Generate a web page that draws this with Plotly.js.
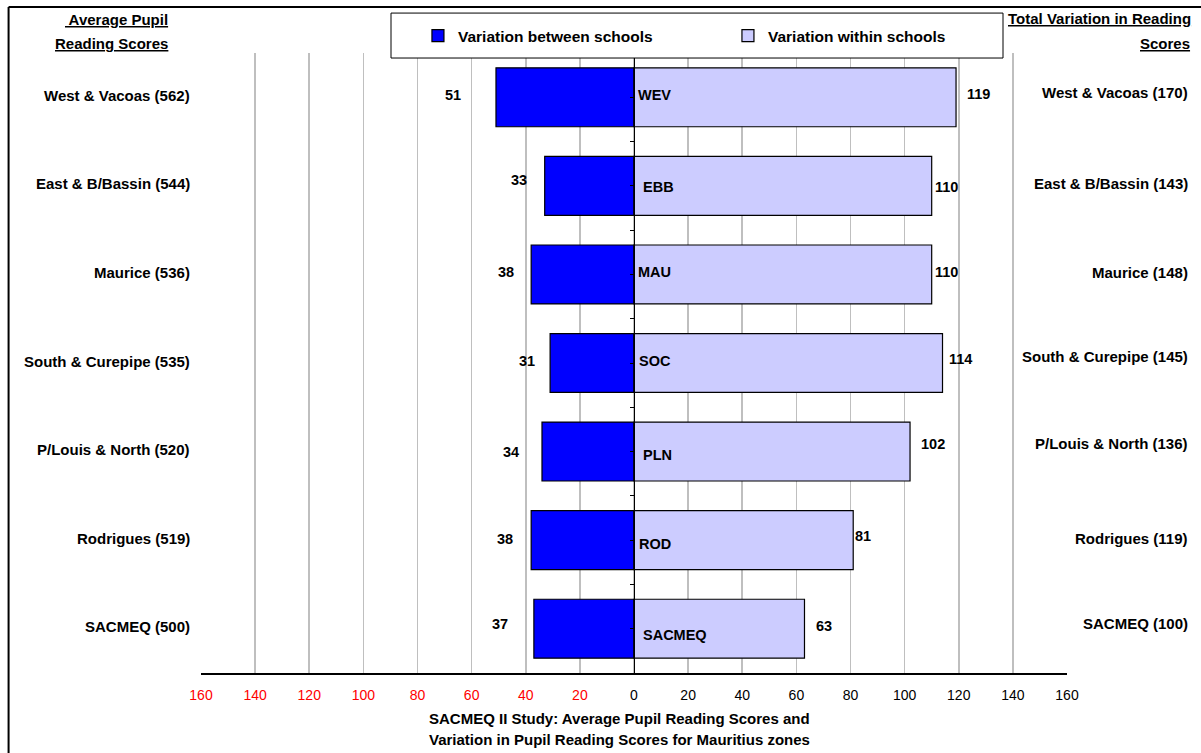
<!DOCTYPE html>
<html>
<head>
<meta charset="utf-8">
<script src="https://cdn.plot.ly/plotly-3.0.1.min.js"></script>
<style>
  html, body { margin: 0; padding: 0; background: #ffffff; }
  #chart { width: 1201px; height: 753px; }
</style>
</head>
<body>
<div id="chart"></div>
<script>
// Mauritius zones: reading score variation split into between/within schools
const zones = ['West & Vacoas', 'East & B/Bassin', 'Maurice', 'South & Curepipe', 'P/Louis & North', 'Rodrigues', 'SACMEQ'];
const zoneCodes = ['WEV', 'EBB', 'MAU', 'SOC', 'PLN', 'ROD', 'SACMEQ'];
const avgScores = [562, 544, 536, 535, 520, 519, 500];
const totalVariation = [170, 143, 148, 145, 136, 119, 100];
const betweenSchools = [51, 33, 38, 31, 34, 38, 37];
const withinSchools = [119, 110, 110, 114, 102, 81, 63];
const xTickVals = [-160, -140, -120, -100, -80, -60, -40, -20, 0, 20, 40, 60, 80, 100, 120, 140, 160];

// Label nudges in pixels (placement only)
const betweenLabelShift = [[-43, 0], [-26, 4], [-25, 0], [-23, 0], [-31, -2], [-26, -1], [-34, 3]];
const withinLabelShift = [[22, 1], [15, -3], [15, 0], [18, 2], [23, 6], [10, 2], [20, 1]];
const codeLabelShift = [[2, 0], [7, -3], [2, 0], [3, 0], [7, -5], [3, -6], [7, -8]];
const rightLabelShift = [3, 0, 0, 5, 6, 0, 3];
const TEXT_LIFT = 2;

const FONT = 'Liberation Sans, Arial, sans-serif';
const rows = zones.map((_, i) => i);

const traces = [
  {
    type: 'bar', orientation: 'h', name: 'Variation between schools',
    y: rows, x: betweenSchools.map(v => -v),
    marker: { color: '#0000ff', line: { color: '#000000', width: 1.2 } },
    hoverinfo: 'skip'
  },
  {
    type: 'bar', orientation: 'h', name: 'Variation within schools',
    y: rows, x: withinSchools,
    marker: { color: '#ccccff', line: { color: '#000000', width: 1.2 } },
    hoverinfo: 'skip'
  }
];

const boldFont = { family: FONT, size: 15, color: '#000000', weight: 700 };
const valueFont = { family: FONT, size: 14.5, color: '#000000', weight: 700 };
const annotations = [];

rows.forEach(i => {
  annotations.push({
    xref: 'paper', yref: 'y', x: 0, y: i, xanchor: 'right', yanchor: 'middle',
    xshift: -9, yshift: TEXT_LIFT, showarrow: false, font: boldFont,
    text: zones[i] + ' (' + avgScores[i] + ')'
  });
  annotations.push({
    xref: 'paper', yref: 'y', x: 1, y: i, xanchor: 'right', yanchor: 'middle',
    xshift: 123, yshift: rightLabelShift[i] + TEXT_LIFT, showarrow: false, font: boldFont,
    text: zones[i] + ' (' + totalVariation[i] + ')'
  });
  annotations.push({
    xref: 'x', yref: 'y', x: -betweenSchools[i], y: i, xanchor: 'center', yanchor: 'middle',
    xshift: betweenLabelShift[i][0], yshift: betweenLabelShift[i][1] + TEXT_LIFT, showarrow: false, font: valueFont,
    text: String(betweenSchools[i])
  });
  annotations.push({
    xref: 'x', yref: 'y', x: withinSchools[i], y: i, xanchor: 'center', yanchor: 'middle',
    xshift: withinLabelShift[i][0], yshift: withinLabelShift[i][1] + TEXT_LIFT, showarrow: false, font: valueFont,
    text: String(withinSchools[i])
  });
  annotations.push({
    xref: 'x', yref: 'y', x: 0, y: i, xanchor: 'left', yanchor: 'middle',
    xshift: codeLabelShift[i][0], yshift: codeLabelShift[i][1] + TEXT_LIFT, showarrow: false, font: valueFont,
    text: zoneCodes[i]
  });
});

// Column headers
annotations.push(
  { xref: 'paper', yref: 'paper', x: 0, y: 1.0515, xanchor: 'right', yanchor: 'middle', xshift: -31, yshift: TEXT_LIFT,
    showarrow: false, font: boldFont, text: '<u> Average Pupil</u>' },
  { xref: 'paper', yref: 'paper', x: 0, y: 1.0129, xanchor: 'right', yanchor: 'middle', xshift: -31, yshift: TEXT_LIFT,
    showarrow: false, font: boldFont, text: '<u>Reading Scores</u>' },
  { xref: 'paper', yref: 'paper', x: 1, y: 1.0531, xanchor: 'right', yanchor: 'middle', xshift: 126, yshift: TEXT_LIFT,
    showarrow: false, font: boldFont, text: '<u>Total Variation in Reading</u>' },
  { xref: 'paper', yref: 'paper', x: 1, y: 1.0129, xanchor: 'right', yanchor: 'middle', xshift: 125, yshift: TEXT_LIFT,
    showarrow: false, font: boldFont, text: '<u>Scores</u>' }
);

// Caption under the axis
annotations.push(
  { xref: 'paper', yref: 'paper', x: 0.4827, y: -0.0773, xanchor: 'center', yanchor: 'middle', yshift: TEXT_LIFT,
    showarrow: false, font: boldFont, text: 'SACMEQ II Study: Average Pupil Reading Scores and' },
  { xref: 'paper', yref: 'paper', x: 0.4827, y: -0.1111, xanchor: 'center', yanchor: 'middle', yshift: TEXT_LIFT,
    showarrow: false, font: boldFont, text: 'Variation in Pupil Reading Scores for Mauritius zones' }
);

// Left side of the axis reads as magnitudes, in red
const xTickText = xTickVals.map(v => v < 0
  ? '<span style="color:#ff0000">' + (-v) + '</span>'
  : String(v));

const shapes = [
  // legend frame
  { type: 'rect', xref: 'paper', yref: 'paper', x0: 0.2194, x1: 0.9261, y0: 0.9919, y1: 1.0644,
    fillcolor: '#ffffff', line: { color: '#000000', width: 1 }, layer: 'above' },
  // outer chart frame (left and top edges)
  { type: 'line', xref: 'paper', yref: 'paper', x0: -0.2222, x1: -0.2222, y0: 1.0741, y1: -0.2,
    line: { color: '#000000', width: 2 } },
  { type: 'line', xref: 'paper', yref: 'paper', x0: -0.2222, x1: 1.2, y0: 1.0741, y1: 1.0741,
    line: { color: '#000000', width: 2 } }
];

const layout = {
  width: 1201, height: 753,
  margin: { l: 201, r: 134, t: 52, b: 80, pad: 0 },
  paper_bgcolor: '#ffffff', plot_bgcolor: '#ffffff',
  font: { family: FONT, size: 14, color: '#000000' },
  barmode: 'relative', bargap: 0.335,
  showlegend: true,
  legend: {
    orientation: 'h', xref: 'container', yref: 'container',
    x: 0.348, y: 1 - 36 / 753, xanchor: 'left', yanchor: 'middle',
    bgcolor: 'rgba(0,0,0,0)', borderwidth: 0,
    entrywidth: 265,
    font: { family: FONT, size: 15.5, color: '#000000', weight: 700 }
  },
  xaxis: {
    range: [-160, 160], tickvals: xTickVals, ticktext: xTickText,
    showgrid: true, gridcolor: '#bfbfbf', gridwidth: 1.6,
    zeroline: false, showline: true, linecolor: '#000000', linewidth: 1.6,
    ticks: '', ticklabelstandoff: 9,
    tickfont: { family: FONT, size: 14, color: '#000000' },
    fixedrange: true
  },
  yaxis: {
    range: [6.5, -0.5], anchor: 'free', position: 0.5, layer: 'above traces',
    tickvals: [-0.5, 0, 0.5, 1, 1.5, 2, 2.5, 3, 3.5, 4, 4.5, 5, 5.5, 6, 6.5],
    showticklabels: false, ticks: 'outside', ticklen: 4, tickcolor: '#000000', tickwidth: 1,
    showgrid: false, zeroline: false, showline: true, linecolor: '#000000', linewidth: 1.4,
    fixedrange: true
  },
  annotations: annotations,
  shapes: shapes
};

Plotly.newPlot('chart', traces, layout, { displayModeBar: false, staticPlot: true });
</script>
</body>
</html>
